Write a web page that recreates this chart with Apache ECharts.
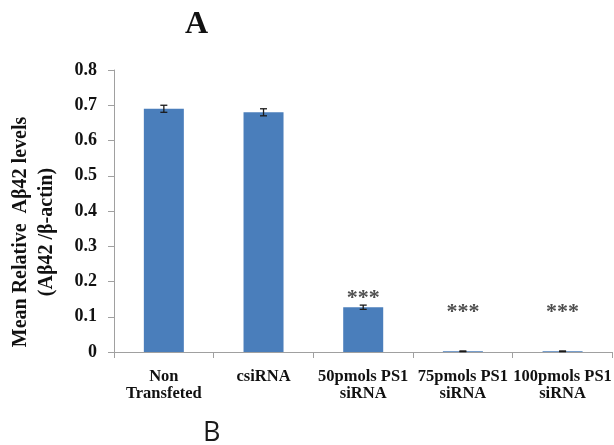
<!DOCTYPE html>
<html>
<head>
<meta charset="utf-8">
<script src="https://cdn.jsdelivr.net/npm/echarts@6/dist/echarts.min.js"></script>
<style>
html,body{margin:0;padding:0;background:#fff;}
#c{width:614px;height:445px;}
</style>
</head>
<body>
<div id="c"></div>
<script>
var categories = ['Non\nTransfeted', 'csiRNA', '50pmols PS1\nsiRNA', '75pmols PS1\nsiRNA', '100pmols PS1\nsiRNA'];
var meanValues = [0.69, 0.68, 0.127, 0.002, 0.002];
var errorValues = [0.01, 0.01, 0.006, 0.001, 0.001];
var sigMarks = ['', '', '***', '***', '***'];
var sigHeights = [null, null, 0.153, 0.112, 0.112];
var yTicks = [0, 0.1, 0.2, 0.3, 0.4, 0.5, 0.6, 0.7, 0.8];

var serif = '"Liberation Serif", "Times New Roman", serif';
var chart = echarts.init(document.getElementById('c'), null, {renderer: 'canvas'});

var errData = meanValues.map(function (v, i) { return [i, v - errorValues[i], v + errorValues[i]]; });
var sigData = sigHeights.map(function (v, i) { return [i, v, sigMarks[i]]; });

chart.setOption({
  backgroundColor: '#ffffff',
  animation: false,
  graphic: [
    {type: 'text', left: 185, top: 9, style: {text: 'A', font: 'bold 32px ' + serif, fill: '#111'}},
    {type: 'text', left: 203, top: 420, style: {text: 'B', font: '27px "Open Sans", "DejaVu Sans", sans-serif', fill: '#1a1a1a'}}
  ],
  grid: {left: 109, right: -2, top: 70, bottom: 93, containLabel: false},
  xAxis: {
    type: 'category',
    data: categories,
    axisLine: {lineStyle: {color: '#a0a0a0', width: 1}},
    axisTick: {show: true, length: 6, lineStyle: {color: '#a0a0a0'}},
    axisLabel: {
      color: '#111', fontFamily: serif, fontWeight: 'bold', fontSize: 16.5,
      lineHeight: 17, margin: 16, interval: 0
    }
  },
  yAxis: {
    type: 'value',
    min: 0, max: 0.8, interval: 0.1,
    name: 'Mean Relative  A\u03b242 levels\n(A\u03b242 /\u03b2-actin)',
    nameLocation: 'middle',
    nameGap: 54,
    nameTextStyle: {color: '#111', fontFamily: serif, fontWeight: 'bold', fontSize: 20, lineHeight: 26, padding: [0, 42, 0, 0]},
    splitLine: {show: false},
    axisLine: {show: true, lineStyle: {color: '#a0a0a0', width: 1}},
    axisTick: {show: true, length: 6, lineStyle: {color: '#a0a0a0'}},
    axisLabel: {
      color: '#111', fontFamily: serif, fontWeight: 'bold', fontSize: 18, margin: 17,
      formatter: function (v) { return String(Math.round(v * 10) / 10); }
    }
  },
  series: [
    {
      type: 'bar',
      data: meanValues,
      barWidth: 40,
      itemStyle: {color: '#4a7ebb'}
    },
    {
      type: 'custom',
      data: errData,
      z: 5,
      renderItem: function (params, api) {
        var x = api.value(0);
        var lo = api.coord([x, api.value(1)]);
        var hi = api.coord([x, api.value(2)]);
        var w = 3.5;
        var st = {stroke: '#1a1a1a', lineWidth: 1.3};
        return {
          type: 'group',
          children: [
            {type: 'line', shape: {x1: lo[0], y1: lo[1], x2: hi[0], y2: hi[1]}, style: st},
            {type: 'line', shape: {x1: lo[0] - w, y1: lo[1], x2: lo[0] + w, y2: lo[1]}, style: st},
            {type: 'line', shape: {x1: hi[0] - w, y1: hi[1], x2: hi[0] + w, y2: hi[1]}, style: st}
          ]
        };
      }
    },
    {
      type: 'scatter',
      data: sigData,
      symbolSize: 0,
      z: 6,
      label: {
        show: true, position: 'inside',
        formatter: function (p) { return p.value[2]; },
        color: '#222', fontFamily: serif, fontWeight: 'bold', fontSize: 22
      }
    }
  ]
});
</script>
</body>
</html>
